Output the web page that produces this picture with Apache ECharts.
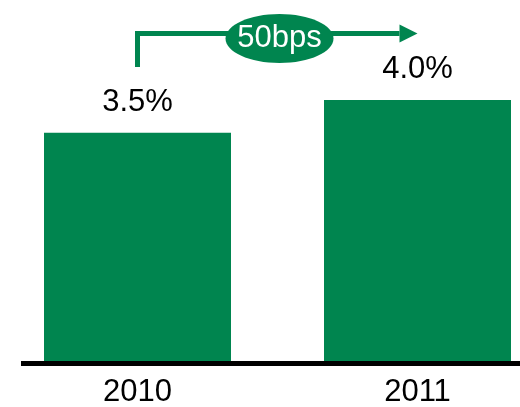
<!DOCTYPE html>
<html>
<head>
<meta charset="utf-8">
<script src="https://cdn.jsdelivr.net/npm/echarts@6/dist/echarts.min.js"></script>
<style>
  html, body { margin: 0; padding: 0; background: #fff; }
  #chart { width: 520px; height: 407px; }
</style>
</head>
<body>
<div id="chart"></div>
<script>
// Annual rate by year
const years = ['2010', '2011'];
const rates = [3.5, 4.0];
const changeLabel = '50bps';

const GREEN = '#00854F';
const FONT = '"Liberation Sans", Arial, sans-serif';

const chart = echarts.init(document.getElementById('chart'), null, { renderer: 'canvas' });

chart.setOption({
  backgroundColor: '#ffffff',
  animation: false,
  grid: {
    left: -2.5, width: 560, top: 34.75, bottom: 46,
    containLabel: false,
    outerBoundsMode: 'none'
  },
  xAxis: {
    type: 'category',
    data: years,
    axisLine: { show: false },
    axisTick: { show: false },
    axisLabel: { fontSize: 31, color: '#000', fontFamily: FONT, margin: 16 }
  },
  yAxis: {
    type: 'value',
    min: 0,
    max: 5,
    show: false,
    splitLine: { show: false }
  },
  series: [{
    type: 'bar',
    data: rates,
    barWidth: 187,
    itemStyle: { color: GREEN },
    label: {
      show: true,
      position: 'top',
      distance: 15,
      fontSize: 31,
      color: '#000',
      fontFamily: FONT,
      formatter: p => p.value.toFixed(1) + '%'
    }
  }]
});

// Baseline, and the change arrow running from the first bar's centre to the second's
const x0 = chart.convertToPixel({ xAxisIndex: 0 }, years[0]);
const x1 = chart.convertToPixel({ xAxisIndex: 0 }, years[1]);
const yBase = chart.convertToPixel({ yAxisIndex: 0 }, 0);
const arrowY = 33.5;
const headLen = 18;
const midX = (x0 + x1) / 2 + 2;

chart.setOption({
  graphic: [
    {
      type: 'line',
      shape: { x1: 21, y1: yBase + 2.5, x2: 520, y2: yBase + 2.5 },
      style: { stroke: '#000', lineWidth: 5 },
      z: 10
    },
    {
      type: 'polyline',
      shape: { points: [[x0, 67], [x0, arrowY], [x1 - headLen, arrowY]] },
      style: { stroke: GREEN, lineWidth: 5, fill: null, lineJoin: 'miter', lineCap: 'butt' },
      z: 10
    },
    {
      type: 'polygon',
      shape: { points: [[x1 - headLen, arrowY - 9], [x1, arrowY], [x1 - headLen, arrowY + 9]] },
      style: { fill: GREEN },
      z: 10
    },
    {
      type: 'ellipse',
      shape: { cx: midX, cy: 38.5, rx: 54, ry: 24.5 },
      style: { fill: GREEN },
      z: 11
    },
    {
      type: 'text',
      x: midX,
      y: 38.5,
      style: {
        text: changeLabel,
        fill: '#fff',
        font: '31px ' + FONT,
        align: 'center',
        verticalAlign: 'middle'
      },
      z: 12
    }
  ]
});
</script>
</body>
</html>
